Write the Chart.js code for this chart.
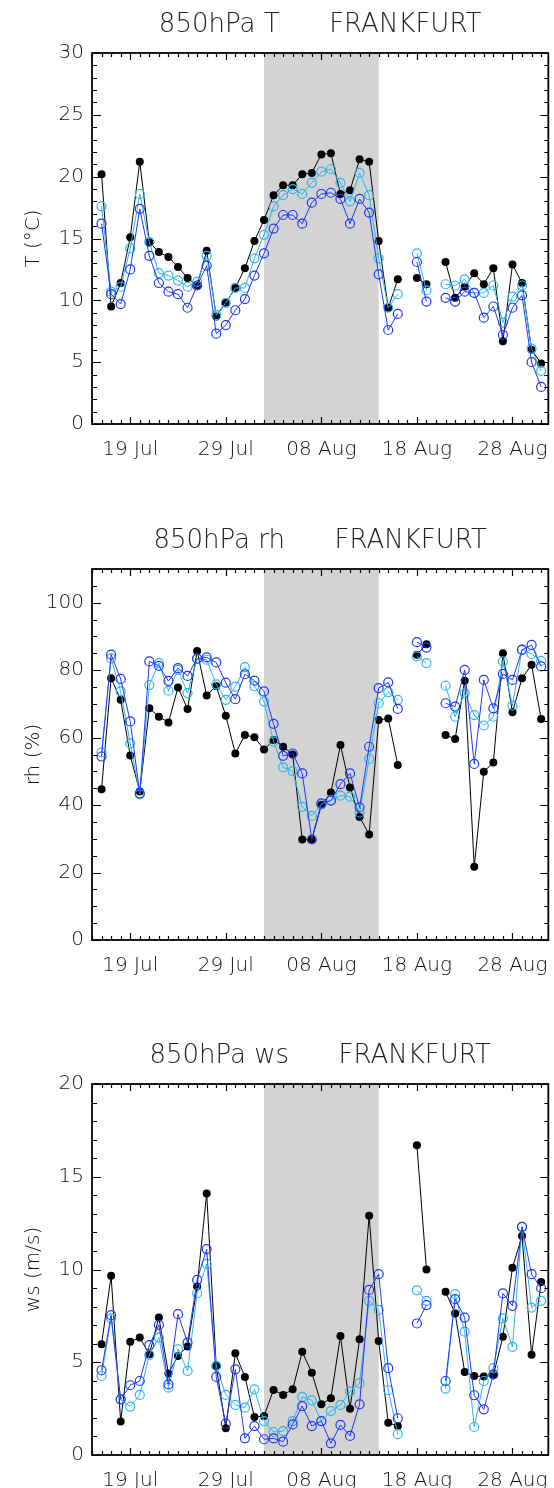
<!DOCTYPE html>
<html>
<head>
<meta charset="utf-8">
<script src="https://cdn.jsdelivr.net/npm/chart.js@4.4.1/dist/chart.umd.min.js"></script>
<style>
  body { margin: 0; width: 554px; height: 1488px; background: #fff; overflow: hidden; position: relative; }
  .panel { position: absolute; left: 0; width: 554px; height: 472px; }
  canvas { display: block; }
</style>
</head>
<body>
<div class="panel" style="top:0px"><canvas id="chartT" width="554" height="472"></canvas></div>
<div class="panel" style="top:516px"><canvas id="chartRH" width="554" height="472"></canvas></div>
<div class="panel" style="top:1031px"><canvas id="chartWS" width="554" height="472"></canvas></div>
<script>
// days counted from 16 Jul (day 0) to 31 Aug (day 46); null = no sounding
var days = [];
for (var i = 0; i <= 46; i++) days.push(i);

var xTickDays = [3, 13, 23, 33, 43];
var xTickLabels = ['19 Jul', '29 Jul', '08 Aug', '18 Aug', '28 Aug'];
var shadeDays = [17, 29]; // grey period (02 Aug - 14 Aug)

// 850hPa temperature (°C)
var tObs  = [20.2, 9.5, 11.4, 15.1, 21.2, 14.7, 13.9, 13.5, 12.7, 11.8, 11.2, 14.0, 8.7, 9.8, 11.0, 12.6, 14.8, 16.5, 18.5, 19.3, 19.3, 20.2, 20.3, 21.8, 21.9, 18.6, 18.9, 21.4, 21.2, 14.8, 9.4, 11.7, null, 11.8, 11.3, null, 13.1, 10.2, 11.1, 12.2, 11.3, 12.6, 6.7, 12.9, 11.4, 6.0, 4.9];
var tMod1 = [17.6, 10.7, 11.1, 14.2, 18.6, 14.7, 12.2, 12.0, 11.6, 11.1, 11.5, 13.6, 8.8, 9.8, 11.0, 11.0, 13.4, 15.3, 17.6, 18.5, 19.0, 18.6, 19.5, 20.4, 20.6, 19.5, 18.0, 20.3, 18.5, 13.4, 9.4, 10.5, null, 13.8, 10.8, null, 11.3, 11.2, 11.7, 10.6, 10.6, 11.2, 8.2, 10.3, 11.2, 6.1, 4.3];
var tMod2 = [16.2, 10.5, 9.7, 12.5, 17.4, 13.6, 11.4, 10.7, 10.5, 9.4, 11.2, 12.8, 7.3, 8.0, 9.2, 10.1, 12.0, 13.8, 15.8, 16.9, 16.9, 16.2, 17.9, 18.6, 18.7, 18.2, 16.2, 18.2, 17.1, 12.1, 7.6, 8.9, null, 13.1, 9.9, null, 10.2, 9.9, 10.7, 10.6, 8.6, 9.5, 7.2, 9.4, 10.4, 5.0, 3.0];

// 850hPa relative humidity (%)
var rhObs  = [44.7, 77.6, 71.2, 54.7, 44.0, 68.7, 66.2, 64.5, 74.9, 68.5, 85.7, 72.5, 75.3, 66.5, 55.3, 60.8, 60.1, 56.5, 59.3, 57.3, 55.0, 29.8, 29.8, 40.0, 43.7, 57.8, 45.2, 36.5, 31.3, 65.2, 65.7, 51.9, null, 84.6, 87.7, null, 60.8, 59.6, 76.9, 21.7, 49.9, 52.6, 85.0, 67.5, 77.6, 81.6, 65.5];
var rhMod1 = [55.6, 83.5, 73.7, 58.3, 43.2, 75.6, 82.1, 73.9, 80.1, 73.2, 83.4, 83.1, 75.8, 71.2, 75.1, 80.9, 75.3, 70.7, 58.8, 51.2, 50.1, 39.5, 36.8, 40.2, 41.5, 42.8, 42.5, 37.8, 53.7, 70.2, 73.5, 71.2, null, 84.1, 82.1, null, 75.4, 66.2, 73.2, 66.7, 63.6, 66.2, 82.6, 69.5, 86.2, 84.8, 82.8];
var rhMod2 = [54.4, 84.6, 77.4, 64.8, 43.5, 82.6, 81.3, 76.8, 80.6, 78.3, 83.4, 83.8, 82.3, 76.3, 71.4, 78.8, 76.9, 73.7, 64.1, 54.6, 55.3, 49.4, 29.8, 40.5, 41.3, 46.2, 49.4, 39.3, 57.3, 74.7, 76.4, 68.5, null, 88.3, 86.7, null, 70.2, 69.2, 80.1, 52.2, 77.1, 68.7, 78.9, 77.1, 86.0, 87.5, 81.1];

// 850hPa wind speed (m/s)
var wsObs  = [5.97, 9.66, 1.80, 6.10, 6.33, 5.43, 7.41, 4.39, 5.34, 5.85, 9.08, 14.1, 4.80, 1.44, 5.49, 4.21, 2.05, 2.10, 3.51, 3.24, 3.54, 5.56, 4.44, 2.73, 3.06, 6.42, 2.50, 6.24, 12.9, 6.15, 1.74, 1.56, null, 16.7, 10.0, null, 8.80, 7.63, 4.48, 4.26, 4.23, 4.30, 6.38, 10.1, 11.8, 5.40, 9.33];
var wsMod1 = [4.26, 7.37, 3.00, 2.61, 3.24, 5.40, 6.33, 3.63, 5.70, 4.53, 8.72, 10.3, 4.80, 3.24, 2.70, 2.55, 3.54, 1.83, 1.24, 1.29, 1.83, 3.13, 2.95, 1.83, 2.37, 2.70, 3.42, 3.87, 8.31, 7.82, 3.49, 1.12, null, 8.88, 8.31, null, 3.58, 8.67, 6.65, 1.51, 3.99, 4.68, 7.36, 5.83, 12.3, 7.95, 8.31];
var wsMod2 = [4.57, 7.54, 3.00, 3.76, 3.99, 5.92, 7.01, 3.81, 7.59, 6.06, 9.44, 11.1, 4.21, 1.69, 4.62, 0.90, 1.56, 0.85, 0.90, 0.72, 1.65, 2.64, 1.56, 1.83, 0.63, 1.62, 1.03, 2.73, 8.90, 9.75, 4.68, 1.98, null, 7.09, 8.08, null, 3.99, 8.40, 7.41, 3.22, 2.46, 4.35, 8.71, 8.04, 12.3, 9.75, 8.99];

var FONT = 'DejaVu Sans';
Chart.defaults.font.family = FONT;
Chart.defaults.font.size = 20;
Chart.defaults.font.weight = 300;
Chart.defaults.color = '#111';

function pts(vals) { // pair each value with its day
  return vals.map(function (v, i) { return { x: days[i], y: v }; });
}

// grey band, frame, inward ticks on all sides, date labels, title on top
var idlFrame = {
  id: 'idlFrame',
  beforeDatasetsDraw: function (chart) {
    var a = chart.chartArea, xs = chart.scales.x, ctx = chart.ctx;
    var x0 = xs.getPixelForValue(shadeDays[0]), x1 = xs.getPixelForValue(shadeDays[1]);
    ctx.save();
    ctx.fillStyle = '#d3d3d3';
    ctx.fillRect(x0, a.top, x1 - x0, a.bottom - a.top);
    ctx.restore();
  },
  afterDraw: function (chart) {
    var a = chart.chartArea, xs = chart.scales.x, ys = chart.scales.y, ctx = chart.ctx;
    var o = chart.options.plugins.idlFrame;
    ctx.save();
    ctx.strokeStyle = '#000';
    ctx.lineWidth = 1.2;
    ctx.beginPath();
    for (var d = xs.min; d <= xs.max; d++) {
      var px = Math.round(xs.getPixelForValue(d)) + 0.5;
      var len = xTickDays.indexOf(d) >= 0 ? 7 : 4;
      ctx.moveTo(px, a.bottom); ctx.lineTo(px, a.bottom - len);
      ctx.moveTo(px, a.top); ctx.lineTo(px, a.top + len);
    }
    for (var v = ys.min; v <= ys.max + 0.001; v += o.minor) {
      var py = Math.round(ys.getPixelForValue(v)) + 0.5;
      var major = Math.abs(v / o.major - Math.round(v / o.major)) < 0.001;
      ctx.moveTo(a.left, py); ctx.lineTo(a.left + (major ? 9 : 5), py);
      ctx.moveTo(a.right, py); ctx.lineTo(a.right - (major ? 8 : 4), py);
    }
    ctx.stroke();
    ctx.lineWidth = 1.8;
    ctx.strokeRect(a.left, a.top, a.right - a.left, a.bottom - a.top);

    ctx.fillStyle = '#111';
    ctx.font = '300 20px "' + FONT + '"';
    ctx.textAlign = 'center';
    ctx.textBaseline = 'alphabetic';
    xTickDays.forEach(function (td, k) {
      ctx.fillText(xTickLabels[k], xs.getPixelForValue(td), a.bottom + 31);
    });

    ctx.fillStyle = '#222';
    ctx.font = '300 26px "' + FONT + '"';
    ctx.textBaseline = 'middle';
    ctx.fillText(o.title, (a.left + a.right) / 2, a.top - 28);
    ctx.restore();
  }
};

function makeChart(id, title, yTitle, yMax, yStep, yMinor, obs, m1, m2) {
  new Chart(document.getElementById(id), {
    type: 'line',
    data: {
      datasets: [
        { data: pts(m2), borderColor: '#2038f5', borderWidth: 1, pointStyle: 'circle', pointRadius: 4.5,
          pointBorderColor: '#2038f5', pointBackgroundColor: 'rgba(0,0,0,0)', pointBorderWidth: 1.2, spanGaps: false },
        { data: pts(m1), borderColor: '#2cb4ee', borderWidth: 1, pointStyle: 'circle', pointRadius: 4.5,
          pointBorderColor: '#2cb4ee', pointBackgroundColor: 'rgba(0,0,0,0)', pointBorderWidth: 1.2, spanGaps: false },
        { data: pts(obs), borderColor: '#000', borderWidth: 1, pointStyle: 'circle', pointRadius: 4,
          pointBorderColor: '#000', pointBackgroundColor: '#000', pointBorderWidth: 0, spanGaps: false }
      ]
    },
    options: {
      responsive: false,
      animation: false,
      devicePixelRatio: 1,
      layout: { padding: { top: 53, right: 2, left: 0, bottom: 0 } },
      plugins: {
        legend: { display: false },
        tooltip: { enabled: false },
        idlFrame: { title: title, major: yStep, minor: yMinor }
      },
      scales: {
        x: {
          type: 'linear', min: -1, max: 46.75,
          grid: { display: false, drawTicks: false },
          border: { display: false },
          afterFit: function (s) { s.height = 48; s.paddingLeft = 0; s.paddingRight = 0; },
          ticks: { display: false }
        },
        y: {
          min: 0, max: yMax,
          grid: { display: false, drawTicks: false },
          border: { display: false },
          afterBuildTicks: function (s) {
            s.ticks = s.ticks.filter(function (t) { return t.value % yStep === 0; });
          },
          afterFit: function (s) { s.width = 92; s.paddingTop = 0; s.paddingBottom = 0; },
          ticks: { stepSize: yStep, padding: 8 },
          title: { display: true, text: yTitle, padding: { top: 22, bottom: 0 }, font: { size: 20 } }
        }
      }
    },
    plugins: [idlFrame]
  });
}

makeChart('chartT', '850hPa T      FRANKFURT', 'T (°C)', 30, 5, 1, tObs, tMod1, tMod2);
makeChart('chartRH', '850hPa rh      FRANKFURT', 'rh (%)', 110, 20, 5, rhObs, rhMod1, rhMod2);
makeChart('chartWS', '850hPa ws      FRANKFURT', 'ws (m/s)', 20, 5, 1, wsObs, wsMod1, wsMod2);
</script>
</body>
</html>
